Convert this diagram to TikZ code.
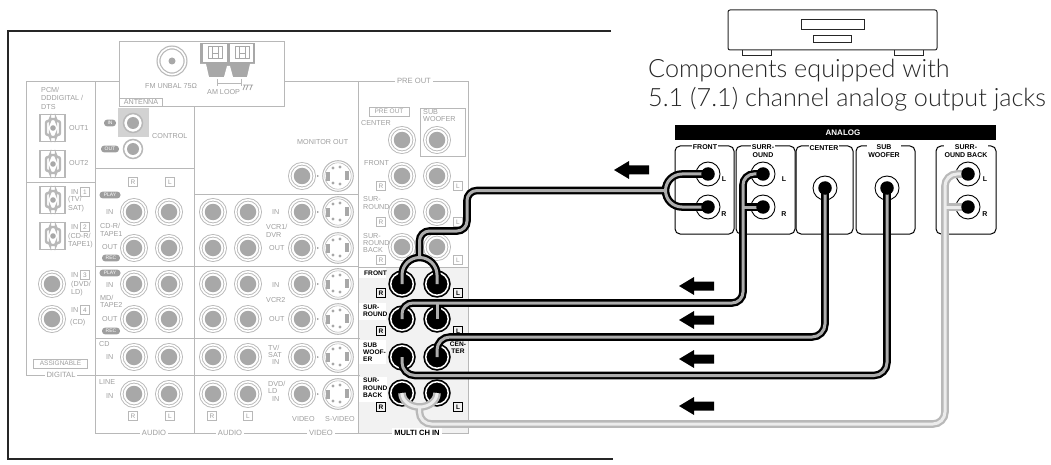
\documentclass[tikz,border=0pt]{standalone}
\usepackage{fontspec}
\setmainfont{Liberation Sans}
\newfontfamily\captionfont{Lato Light}
\usetikzlibrary{positioning}
\definecolor{panelline}{gray}{0.72}
\definecolor{paneltext}{gray}{0.62}
\definecolor{coregrey}{gray}{0.66}
\definecolor{cablegrey}{gray}{0.68}
\definecolor{multifill}{gray}{0.95}

\begin{document}
\begin{tikzpicture}[x=1pt, y=-1pt]
    \tikzstyle{label} = [inner sep=0, text=paneltext, align=left, font=\fontsize{7.2}{7.5}\selectfont];
    \tikzstyle{linelabel} = [label, fill=white, inner sep=2, font=\fontsize{7.6}{8}\selectfont];
    \tikzstyle{tag} = [label, draw=panelline, line width=0.6, inner sep=1, minimum size=8.5, align=center, font=\fontsize{6.5}{7}\selectfont];
    \tikzstyle{pill} = [fill=paneltext, text=white, rounded corners=3.2, inner sep=1, minimum height=6.8, font=\fontsize{5}{6}\selectfont];
    \tikzstyle{multilabel} = [inner sep=0, align=left, font=\bfseries\fontsize{6.6}{7.3}\selectfont];
    \tikzstyle{multitag} = [draw, line width=0.7, inner sep=1, minimum size=8.5, font=\bfseries\fontsize{6.5}{7}\selectfont];
    \tikzstyle{socketring} = [circle, draw=panelline, fill=white, line width=0.9, double=white, double distance=1.6, inner sep=0, minimum size=24.5];
    \tikzstyle{socketcore} = [circle, fill=coregrey, inner sep=0, minimum size=16.5];
    \tikzstyle{controlring} = [circle, draw=panelline, fill=white, line width=1.5, inner sep=0, minimum size=19];
    \tikzstyle{multijack} = [circle, draw=black, fill=black, line width=1.7, double=white, double distance=1.5, inner sep=0, minimum size=22.5];
    \tikzstyle{outjack} = [circle, draw=black, fill=white, line width=0.9, inner sep=0, minimum size=24];
    \tikzstyle{plug} = [circle, fill=black, inner sep=0, minimum size=13.5];
    \tikzstyle{outbox} = [draw, rounded corners=5, line width=1, inner sep=0, minimum height=88];
    \tikzstyle{outtitle} = [fill=white, inner sep=1, align=center, font=\bfseries\fontsize{7}{7.8}\selectfont];
    \tikzstyle{outlabel} = [inner sep=0, font=\bfseries\fontsize{7}{8}\selectfont];
    \tikzstyle{bigarrow} = [fill=black];

    \useasboundingbox (0, 0) rectangle (1051, 465);

    \draw[line width=1.8, black!85] (611, 31) -- (8, 31) -- (8, 459) -- (613, 459);

    \fill[multifill] (358, 267) rectangle (468, 433);
    \fill[white] (359, 268) rectangle (386, 278);
    \fill[white] (359, 303) rectangle (386, 320);
    \fill[white] (359, 340) rectangle (386, 364);
    \fill[white] (359, 377) rectangle (387, 402);
    \fill[gray!35] (118, 108) rectangle (149, 137);

    \draw[panelline, line width=0.8] (26, 81) rectangle (95, 375);
    \draw[panelline, line width=0.8] (26, 182) -- (95, 182);
    \draw[panelline, line width=0.8] (95, 81) -- (119, 81);
    \draw[panelline, line width=0.8] (284, 81) -- (468, 81) -- (468, 433) -- (95, 433) -- (95, 375);
    \draw[panelline, line width=0.8] (194, 106) -- (194, 433);
    \draw[panelline, line width=0.8] (358, 81) -- (358, 433);
    \draw[panelline, line width=0.8] (95, 168) -- (194, 168);
    \draw[panelline, line width=0.8] (194, 194) -- (358, 194);
    \draw[panelline, line width=0.8] (95, 266) -- (358, 266);
    \draw[panelline, line width=0.8] (358, 267) -- (468, 267);
    \draw[panelline, line width=0.8] (95, 338) -- (360, 338);
    \draw[panelline, line width=0.8] (95, 375) -- (360, 375);
    \draw[panelline, line width=0.8] (420, 108) rectangle (465, 156);

    \draw[panelline, line width=0.8, fill=white] (119, 41) rectangle (284, 106);
    \draw[panelline, line width=0.8] (119, 98) -- (162, 98) -- (162, 106);

    \node[socketring, minimum size=27, line width=1.2] (fmRing) at (172, 61) {};
    \node[socketcore, minimum size=7] (fmCore) at (172, 61) {};

    \fill[coregrey] (200, 43) rectangle (255, 77);
    \fill[white] (203, 44) rectangle (227, 62);
    \fill[white] (230, 44) rectangle (253, 62);
    \fill[white] (200, 64) -- (206, 64) -- (209, 77) -- (200, 77) -- cycle;
    \fill[white] (224, 77) -- (227, 66) -- (230, 66) -- (233, 77) -- cycle;
    \fill[white] (255, 64) -- (250, 64) -- (247, 77) -- (255, 77) -- cycle;
    \draw[coregrey, line width=1] (208, 47) rectangle (222, 59);
    \draw[coregrey, line width=1] (235, 47) rectangle (249, 59);
    \draw[coregrey, line width=0.8] (212, 47) -- (212, 59) (218, 47) -- (218, 59) (212, 53) -- (218, 53);
    \draw[coregrey, line width=0.8] (239, 47) -- (239, 59) (245, 47) -- (245, 59) (239, 53) -- (245, 53);
    \draw[panelline, line width=0.9] (217, 79) -- (217, 86) (241, 79) -- (241, 86) (217, 83) -- (241, 83);
    \draw[paneltext, line width=0.8] (243, 85) -- (253, 85) (245, 85) -- (243, 90) (248, 85) -- (246, 90) (252, 85) -- (250, 90);

    \foreach \y in {128, 164, 200, 236} {
        \draw[panelline, line width=1.6] (40, \y-13.5) rectangle (65, \y+13.5);
        \draw[panelline, line width=2.4, rounded corners=2] (46, \y-7) -- (50, \y-7) -- (50, \y-9) -- (56, \y-9) -- (56, \y-7) -- (60, \y-7) -- (60, \y+7) -- (56, \y+7) -- (56, \y+9) -- (50, \y+9) -- (50, \y+7) -- (46, \y+7) -- cycle;
        \fill[coregrey] (53, \y) circle (2.8);
    }

    \foreach \x/\y [count=\i] in {52/284, 52/319,
        134/212, 169/212, 134/248, 169/248, 134/284, 169/284, 134/319, 169/319, 134/357, 169/357, 134/394, 169/394,
        213/212, 248/212, 213/248, 248/248, 213/284, 248/284, 213/319, 248/319, 213/357, 248/357, 213/394, 248/394,
        302/176, 302/212, 302/248, 302/284, 302/319, 302/357, 302/394,
        402/140, 437/140, 402/176, 437/176, 402/212, 437/212, 402/247, 437/247} {
        \node[socketring] (ring\i) at (\x, \y) {};
        \node[socketcore] (core\i) at (\x, \y) {};
    }
    \node[controlring] (controlInRing) at (133, 123) {};
    \node[socketcore, minimum size=12] (controlInCore) at (133, 123) {};
    \node[controlring] (controlOutRing) at (133, 149) {};
    \node[socketcore, minimum size=12] (controlOutCore) at (133, 149) {};

    \foreach \y in {176, 212, 248, 284, 319, 357, 394} {
        \draw[panelline, line width=1] (338, \y) circle (15.3);
        \draw[panelline, line width=0.6] (338, \y) circle (13.2);
        \fill[coregrey] (326, \y-4) rectangle (330, \y+5);
        \fill[coregrey] (345, \y-5) rectangle (349, \y+4);
        \fill[coregrey] (333, \y-8) circle (1.6) (340, \y-9) circle (1.6);
        \fill[coregrey] (333, \y+7) circle (1.6) (340, \y+8) circle (1.6);
        \fill[paneltext] (317, \y-1) -- (319, \y) -- (317, \y+1) -- cycle;
    }

    \foreach \x/\y/\t [count=\i] in {41/90/{PCM/}, 41/98/{DDDIGITAL /}, 41/107/DTS,
        69/128/OUT1, 69/163/OUT2, 68/200/{(TV/}, 68/209/{SAT)}, 68/237/{(CD-R/}, 68/245/{TAPE1)},
        71/285/{(DVD/}, 71/293/{LD)}, 70/323/{(CD)}, 71/192/IN, 71/227/IN, 71/275/IN, 71/310/IN,
        152/136/CONTROL, 100/226/{CD-R/}, 100/234/{TAPE1}, 100/298/{MD/}, 100/305/{TAPE2},
        99/344/CD, 99/382/LINE, 106/212/IN, 106/285/IN, 106/357/IN, 106/396/IN, 102/247/OUT, 102/319/OUT,
        266/227/{VCR1/}, 266/235/DVR, 269/248/OUT, 269/319/OUT, 272/212/IN, 272/285/IN, 266/300/VCR2,
        268/348/{TV/}, 268/355/SAT, 272/362/IN, 268/384/{DVD/}, 268/391/LD, 272/399/IN,
        297/142/{MONITOR OUT}, 292/419/VIDEO, 325/419/{S-VIDEO}, 145/86/{FM UNBAL 75Ω}, 207/92/{AM LOOP},
        361/123/CENTER, 423/112/SUB, 423/119/WOOFER, 364/163/FRONT, 363/199/{SUR-}, 363/207/ROUND,
        363/236/{SUR-}, 363/243/ROUND, 363/250/BACK} {
        \node[label, anchor=west] (text\i) at (\x, \y) {\t};
    }

    \foreach \x/\y/\t [count=\i] in {61/375/DIGITAL, 154/433/AUDIO, 230/433/AUDIO, 321/433/VIDEO, 414/81/{PRE OUT}} {
        \node[linelabel] (line\i) at (\x, \y) {\t};
    }

    \foreach \x/\y/\t [count=\i] in {85/192/1, 85/227/2, 85/275/3, 85/310/4,
        133/182/R, 170/182/L, 133/416/R, 170/416/L, 212/416/R, 248/416/L,
        381/186/R, 458/186/L, 381/222/R, 458/222/L, 381/260/R, 458/260/L} {
        \node[tag] (tag\i) at (\x, \y) {\t};
    }
    \node[tag, minimum width=54, minimum height=9] (assignable) at (60.5, 363.5) {ASSIGNABLE};
    \node[label] (antenna) at (141, 102) {ANTENNA};
    \node[tag, minimum width=40, minimum height=9] (preOut) at (389, 111.5) {PRE OUT};

    \node[pill, minimum width=12] (pillIn) at (110, 123) {IN};
    \node[pill, minimum width=18] (pillOut) at (110, 149) {OUT};
    \foreach \y [count=\i] in {195, 273} {
        \node[pill, minimum width=21] (pillPlay\i) at (110, \y) {PLAY};
    }
    \foreach \y [count=\i] in {258, 331} {
        \node[pill, minimum width=18] (pillRec\i) at (111, \y) {REC};
    }

    \node[multilabel, anchor=west] (mFrontText) at (364, 273) {FRONT};
    \node[multilabel, anchor=west] (mSurrText) at (363, 311) {SUR-\\ROUND};
    \node[multilabel, anchor=west] (mSubText) at (363, 352) {SUB\\WOOF-\\ER};
    \node[multilabel, anchor=west] (mBackText) at (363, 388) {SUR-\\ROUND\\BACK};
    \node[multilabel, align=center] (mCenterText) at (458, 348) {CEN-\\TER};
    \node[multilabel, fill=white, inner sep=2, font=\bfseries\fontsize{7.6}{8}\selectfont] (multiTitle) at (417, 433) {MULTI CH IN};
    \foreach \x/\y/\t [count=\i] in {381/293/R, 458/293/L, 381/331/R, 458/331/L, 381/407/R, 458/407/L} {
        \node[multitag] (mTag\i) at (\x, \y) {\t};
    }

    \node[multijack] (mFrontR) at (402, 284) {};
    \node[multijack] (mFrontL) at (437, 284) {};
    \node[multijack] (mSurrR) at (402, 319) {};
    \node[multijack] (mSurrL) at (437, 319) {};
    \node[multijack] (mSub) at (402, 357) {};
    \node[multijack] (mCenter) at (437, 357) {};
    \node[multijack] (mBackR) at (402, 393) {};
    \node[multijack] (mBackL) at (437, 393) {};

    \draw[black!85, line width=1, rounded corners=2] (728, 10) rectangle (937, 50);
    \draw[black!85, line width=0.9] (801, 19) rectangle (864, 29);
    \draw[black!85, line width=0.9] (813, 35) rectangle (851, 42);
    \draw[black!85, line width=0.9] (742, 50) -- (742, 55) -- (771, 55) -- (771, 50);
    \draw[black!85, line width=0.9] (894, 50) -- (894, 55) -- (923, 55) -- (923, 50);

    \node[inner sep=0, anchor=north west, align=left, text=black!85, font=\captionfont\fontsize{25.2}{29}\selectfont] (caption) at (648, 59) {Components equipped with\\5.1 (7.1) channel analog output jacks};

    \node[fill=black, inner sep=0, minimum width=321, minimum height=15] (analogBar) at (835.5, 132.5) {};
    \node[inner sep=0, text=white, font=\bfseries\fontsize{8}{9}\selectfont] (analogText) at (843, 132.5) {ANALOG};

    \node[outbox, minimum width=59] (boxFront) at (704.5, 190) {};
    \node[outbox, minimum width=59] (boxSurr) at (765.5, 190) {};
    \node[outbox, minimum width=57] (boxCenter) at (824.5, 190) {};
    \node[outbox, minimum width=59] (boxSub) at (885.5, 190) {};
    \node[outbox, minimum width=60] (boxBack) at (966, 190) {};

    \node[outtitle] (titleFront) at (705, 147) {FRONT};
    \node[outtitle] (titleSurr) at (763, 151) {SURR-\\OUND};
    \node[outtitle] (titleCenter) at (824, 148) {CENTER};
    \node[outtitle] (titleSub) at (884, 151) {SUB\\WOOFER};
    \node[outtitle] (titleBack) at (966, 151) {SURR-\\OUND BACK};

    \foreach \x/\y/\t [count=\i] in {724/179/L, 724/214/R, 784/179/L, 784/214/R, 985/179/L, 985/214/R} {
        \node[outlabel] (jackText\i) at (\x, \y) {\t};
    }

    \node[outjack] (aFrontL) at (708, 174) {};
    \node[outjack] (aFrontR) at (708, 207) {};
    \node[outjack] (aSurrL) at (763, 174) {};
    \node[outjack] (aSurrR) at (763, 207) {};
    \node[outjack] (aCenter) at (825, 188) {};
    \node[outjack] (aSub) at (887, 188) {};
    \node[outjack] (aBackL) at (968, 174) {};
    \node[outjack] (aBackR) at (968, 207) {};

    \coordinate (frontJoin) at (665.5, 190.5);
    \coordinate (frontBend) at (467, 231);
    \coordinate (frontTop) at (419.5, 257.5);
    \coordinate (surrBend) at (743, 303);
    \coordinate (centerRun) at (600, 337);
    \coordinate (subRun) at (600, 375.5);
    \coordinate (backLow) at (419.5, 407);
    \coordinate (backBend) at (945, 424);

    \foreach \w/\c in {7.6/black, 3/cablegrey} {
        \draw[line width=\w, color=\c] (aFrontL.center) -- ++(-26, 0) arc[start angle=-90, end angle=-270, radius=16.5] -- (aFrontR.center);
        \draw[line width=\w, color=\c, rounded corners=10] (frontJoin) -| (frontBend) -| (frontTop);
        \draw[line width=\w, color=\c] (mFrontR.center) -- ++(0, -9) arc[start angle=180, end angle=360, radius=17.5] -- (mFrontL.center);
        \draw[line width=\w, color=\c, rounded corners=11] (aSurrL.center) -| (surrBend) -| (mSurrR.center);
        \draw[line width=\w, color=\c] (aSurrR.center) -- (aSurrR -| surrBend);
        \draw[line width=\w, color=\c] (mSurrL.center) -- (mSurrL |- surrBend);
        \draw[line width=\w, color=\c, rounded corners=13] (aCenter.center) |- (centerRun) -| (mCenter.center);
        \draw[line width=\w, color=\c, rounded corners=13] (aSub.center) |- (subRun) -| (mSub.center);
    }

    \foreach \w/\c in {7.6/gray!55, 3/gray!15} {
        \draw[line width=\w, color=\c] (mBackR.center) arc[start angle=180, end angle=0, x radius=17.5, y radius=14];
        \draw[line width=\w, color=\c, rounded corners=12] (backLow) |- (backBend) |- (aBackL.center);
        \draw[line width=\w, color=\c] (aBackR.center) -- (aBackR -| backBend);
    }

    \foreach \j in {aFrontL, aFrontR, aSurrL, aSurrR, aCenter, aSub, aBackL, aBackR} {
        \node[plug] (\j Plug) at (\j) {};
    }

    \foreach \x/\y in {649/170, 714/286, 714/320, 714/359, 714/406} {
        \fill[bigarrow] (\x, \y-4.5) -- (\x-20, \y-4.5) -- (\x-20, \y-9) -- (\x-35, \y) -- (\x-20, \y+9) -- (\x-20, \y+4.5) -- (\x, \y+4.5) -- cycle;
    }
\end{tikzpicture}
\end{document}
